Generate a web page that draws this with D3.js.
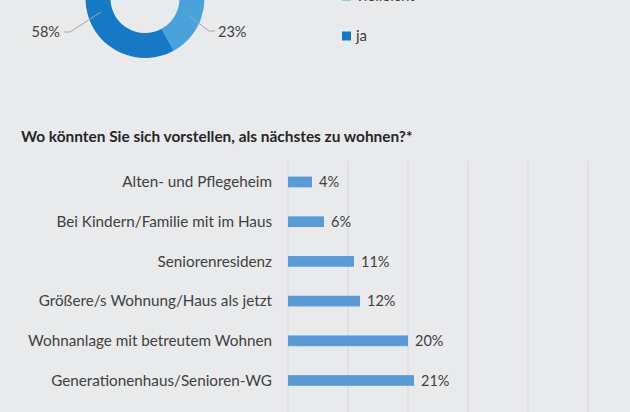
<!DOCTYPE html>
<html><head><meta charset="utf-8">
<script src="https://cdn.jsdelivr.net/npm/d3@7"></script>
<style>html,body{margin:0;padding:0;background:#e9eaec;overflow:hidden}svg{display:block}</style>
</head><body>
<svg id="c" width="630" height="412"></svg>
<script>
const donutCats = ["nein", "vielleicht", "ja"];
const donutVals = [19, 23, 58];
const donutColors = ["#9dc3e6", "#4aa2dc", "#1679c6"];

const title = "Wo könnten Sie sich vorstellen, als nächstes zu wohnen?*";
const barCats = ["Alten- und Pflegeheim", "Bei Kindern/Familie mit im Haus", "Seniorenresidenz",
  "Größere/s Wohnung/Haus als jetzt", "Wohnanlage mit betreutem Wohnen", "Generationenhaus/Senioren-WG"];
const barVals = [4, 6, 11, 12, 20, 21];
const gridTicks = [0, 10, 20, 30, 40, 50, 60];

const svg = d3.select("#c");
const FONT = "Lato, 'Open Sans', sans-serif";
const txt = "#404040";

// ---- Donut ----
const cx = 145, cy = -1.5, R = 59.5, r = 34.5;
const pie = d3.pie().sort(null).value(d => d)(donutVals);
const arc = d3.arc().innerRadius(r).outerRadius(R);
const g = svg.append("g").attr("transform", `translate(${cx},${cy})`);
g.selectAll("path").data(pie).join("path").attr("d", arc).attr("fill", (d, i) => donutColors[i]);

const lab = [
  {i: 2, pts: [[64, 32], [70, 32], [101, 12]], x: 60, anchor: "end"},
  {i: 1, pts: [[188, 15], [209, 31], [215, 31]], x: 218, anchor: "start"}
];
lab.forEach(l => {
  svg.append("path").attr("d", d3.line()(l.pts)).attr("fill", "none").attr("stroke", "#a6a6a6").attr("stroke-width", 1);
  svg.append("text").attr("x", l.x).attr("y", 37).attr("text-anchor", l.anchor)
    .attr("font-family", FONT).attr("font-size", 14.5).attr("fill", txt).text(donutVals[l.i] + "%");
});

// legend
const legY = d3.scaleLinear().domain([0, 2]).range([-44, 36]);
donutCats.forEach((c, i) => {
  svg.append("rect").attr("x", 342).attr("y", legY(i) - 4.5).attr("width", 9).attr("height", 9).attr("fill", donutColors[i]);
  svg.append("text").attr("x", 356).attr("y", legY(i) + 5).attr("font-family", FONT).attr("font-size", 15).attr("fill", txt).text(c);
});

// ---- Bar chart ----
const t = svg.append("text").attr("x", 21).attr("y", 142).attr("font-family", FONT).attr("font-weight", "bold")
  .attr("font-size", 15).attr("fill", "#262626").text(title);
const tw = t.node().getComputedTextLength();
t.attr("font-size", 15 * 392 / tw);

const x = d3.scaleLinear().domain([0, 60]).range([288, 648]);
const y = d3.scaleBand().domain(barCats).range([162.15, 400.35]).paddingInner(0.73).paddingOuter(0.365);

svg.append("g").selectAll("line").data(gridTicks).join("line")
  .attr("x1", d => x(d)).attr("x2", d => x(d)).attr("y1", 161).attr("y2", 412)
  .attr("stroke", "#d6d7d9").attr("stroke-width", 1);

svg.append("g").selectAll("rect").data(barVals).join("rect")
  .attr("x", x(0)).attr("y", (d, i) => y(barCats[i])).attr("width", d => x(d) - x(0))
  .attr("height", y.bandwidth()).attr("fill", "#5b9bd5");

const labels = svg.append("g").selectAll("text").data(barCats).join("text")
  .attr("x", 272).attr("y", d => y(d) + y.bandwidth() / 2 + 5.3).attr("text-anchor", "end")
  .attr("font-family", FONT).attr("font-size", 15).attr("fill", txt).text(d => d);
const lw = labels.nodes()[5].getComputedTextLength();
labels.attr("font-size", 15 * 221 / lw);

svg.append("g").selectAll("text").data(barVals).join("text")
  .attr("x", d => x(d) + 7).attr("y", (d, i) => y(barCats[i]) + y.bandwidth() / 2 + 5.3)
  .attr("font-family", FONT).attr("font-size", 14.5).attr("fill", txt).text(d => d + "%");
</script>
</body></html>
